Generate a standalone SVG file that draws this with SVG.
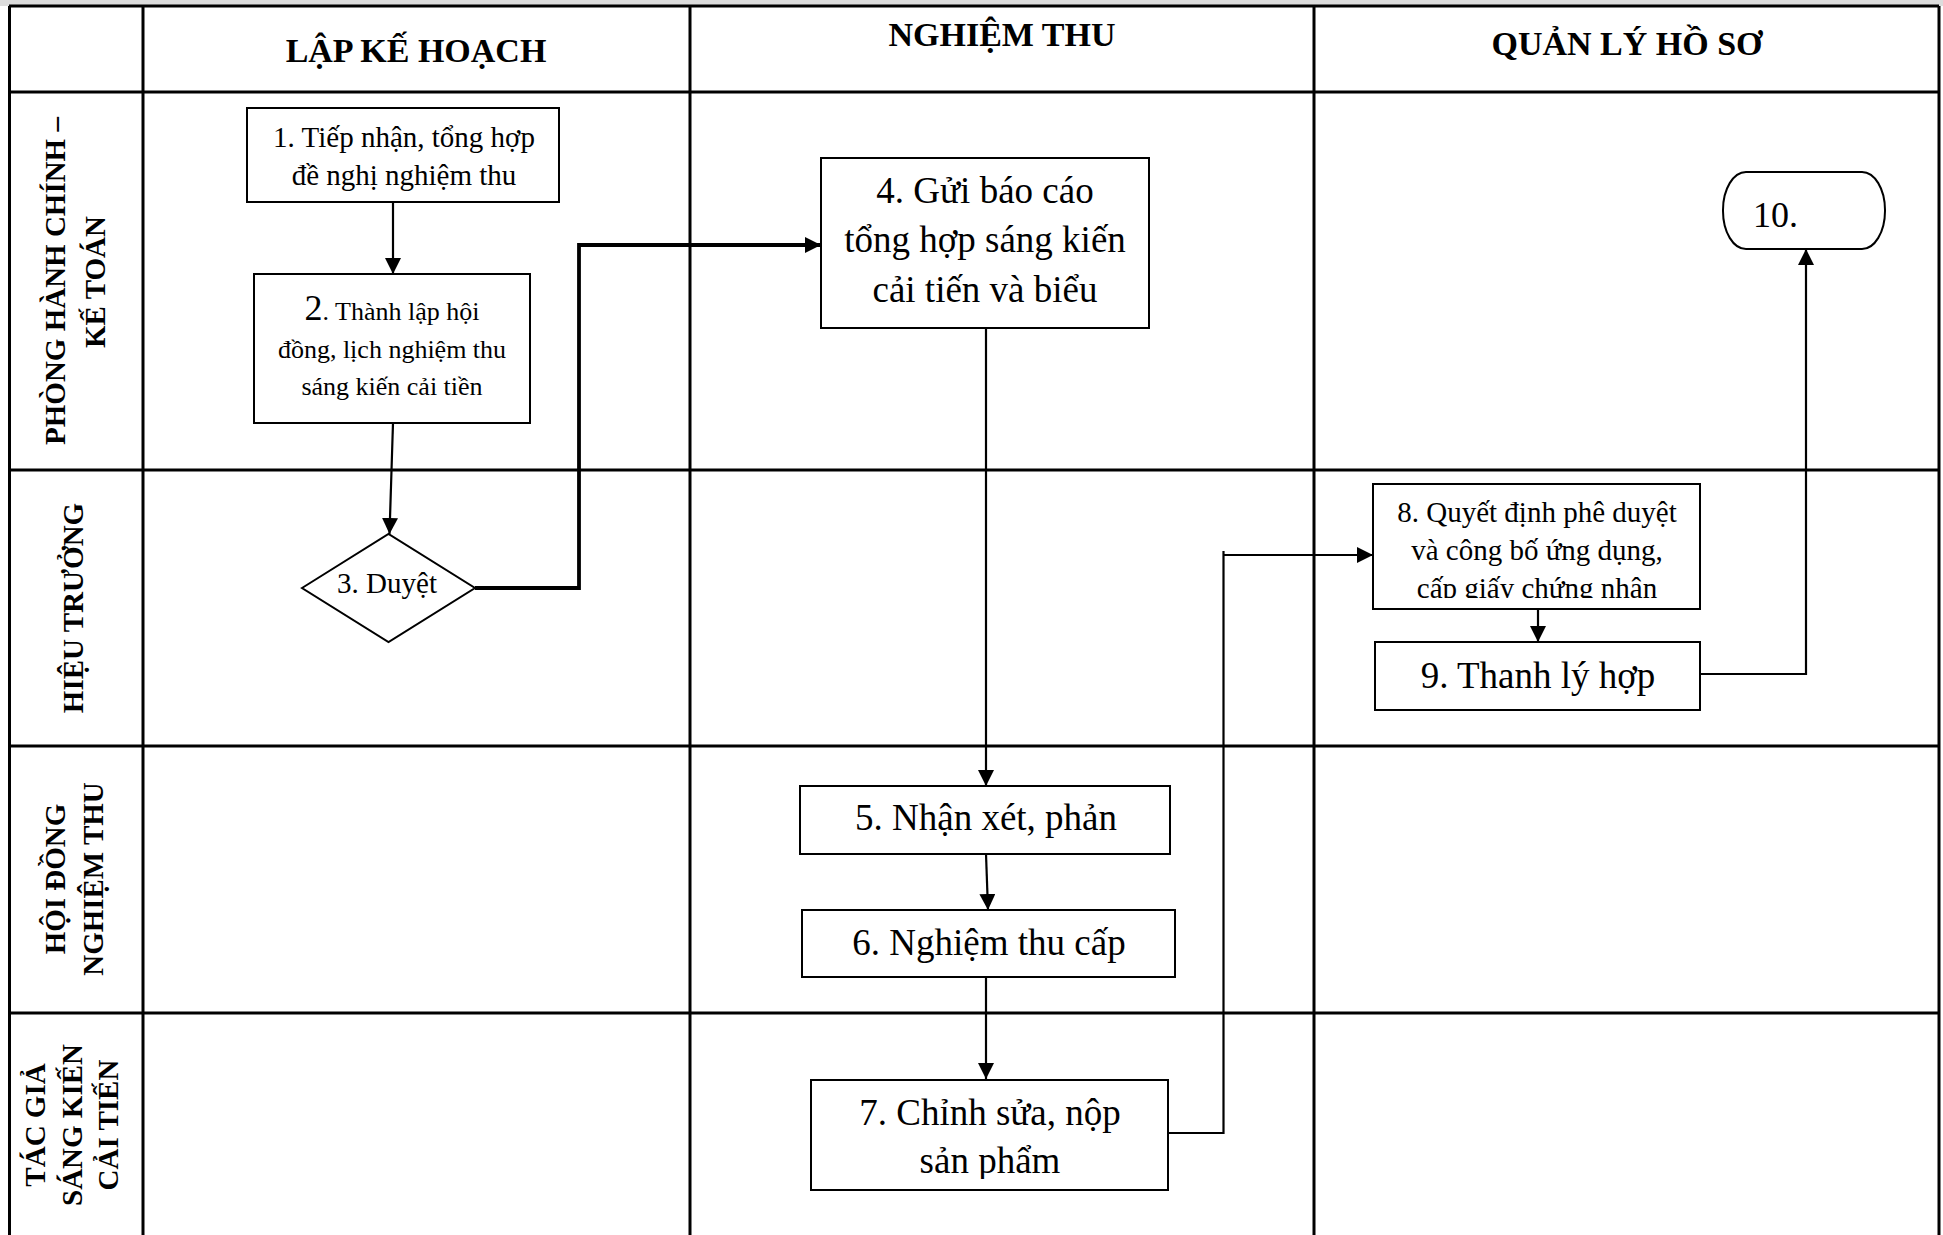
<svg xmlns="http://www.w3.org/2000/svg" width="1943" height="1235" viewBox="0 0 1943 1235">
<style>
.grid{stroke:#000;stroke-width:3;fill:none}
.box{fill:#fff;stroke:#000;stroke-width:2}
.hdr{font-family:"Liberation Serif","Times New Roman",serif;font-weight:bold;font-size:34px;text-anchor:middle;fill:#000}
.lane{font-family:"Liberation Serif","Times New Roman",serif;font-weight:bold;font-size:29px;text-anchor:middle;fill:#000}
.t{font-family:"Liberation Serif","Times New Roman",serif;text-anchor:middle;fill:#000}
.ts{font-family:"Liberation Serif","Times New Roman",serif;text-anchor:start;fill:#000;font-size:36px}
.s29{font-size:29px}
.s26{font-size:26px}
.s37{font-size:37px}
.conn{stroke:#000;stroke-width:2.2;fill:none}
.thick{stroke:#000;stroke-width:3.8;fill:none}
</style>
<defs>
<marker id="arr" markerUnits="userSpaceOnUse" markerWidth="16" markerHeight="16" refX="16" refY="8" orient="auto">
<path d="M0,0 L16,8 L0,16 z" fill="#000"/>
</marker>
<clipPath id="clip8"><rect x="1373" y="484" width="327" height="114"/></clipPath>
<clipPath id="clip7"><rect x="811" y="1080" width="357" height="99"/></clipPath>
</defs>
<rect x="0" y="0" width="1943" height="1235" fill="#fff"/>
<rect x="0" y="0" width="1943" height="6" fill="#dcdcdc"/>
<g id="grid">
<line class="grid" x1="9" y1="6" x2="1939" y2="6"/>
<line class="grid" x1="9" y1="92" x2="1939" y2="92"/>
<line class="grid" x1="9" y1="470" x2="1939" y2="470"/>
<line class="grid" x1="9" y1="746" x2="1939" y2="746"/>
<line class="grid" x1="9" y1="1013" x2="1939" y2="1013"/>
<line class="grid" x1="9.5" y1="6" x2="9.5" y2="1235"/>
<line class="grid" x1="143" y1="6" x2="143" y2="1235"/>
<line class="grid" x1="690" y1="6" x2="690" y2="1235"/>
<line class="grid" x1="1314" y1="6" x2="1314" y2="1235"/>
<line class="grid" x1="1939" y1="6" x2="1939" y2="1235"/>
</g>
<g id="headers">
<text class="hdr" x="416" y="62">LẬP KẾ HOẠCH</text>
<text class="hdr" x="1002" y="46">NGHIỆM THU</text>
<text class="hdr" x="1627" y="55">QUẢN LÝ HỒ SƠ</text>
</g>
<g id="lanes">
<text class="lane" transform="translate(64.5,281) rotate(-90)">PHÒNG HÀNH CHÍNH –</text>
<text class="lane" transform="translate(105,282) rotate(-90)">KẾ TOÁN</text>
<text class="lane" transform="translate(83,608) rotate(-90)">HIỆU TRƯỞNG</text>
<text class="lane" transform="translate(64.5,879) rotate(-90)">HỘI ĐỒNG</text>
<text class="lane" transform="translate(103,879) rotate(-90)">NGHIỆM THU</text>
<text class="lane" transform="translate(44.5,1125) rotate(-90)">TÁC GIẢ</text>
<text class="lane" transform="translate(82,1125) rotate(-90)">SÁNG KIẾN</text>
<text class="lane" transform="translate(118,1125) rotate(-90)">CẢI TIẾN</text>
</g>
<g id="connectors">
<line class="conn" x1="393" y1="202" x2="393" y2="274" marker-end="url(#arr)"/>
<line class="conn" x1="393" y1="423" x2="389.5" y2="534" marker-end="url(#arr)"/>
<path class="thick" d="M475,588 H579 V245 H821" marker-end="url(#arr)"/>
<line class="conn" x1="986" y1="328" x2="986" y2="786" marker-end="url(#arr)"/>
<line class="conn" x1="986" y1="854" x2="988" y2="910" marker-end="url(#arr)"/>
<line class="conn" x1="986" y1="977" x2="986" y2="1079" marker-end="url(#arr)"/>
<path class="conn" d="M1168,1133 H1223.5 V551"/>
<line class="conn" x1="1223.5" y1="555" x2="1373" y2="555" marker-end="url(#arr)"/>
<line class="conn" x1="1538" y1="609" x2="1538" y2="642" marker-end="url(#arr)"/>
<path class="conn" d="M1700,674 H1806 V249" marker-end="url(#arr)"/>
</g>
<g id="n1">
<rect class="box" x="247" y="108" width="312" height="94"/>
<text class="t s29" x="404" y="147">1. Tiếp nhận, tổng hợp</text>
<text class="t s29" x="404" y="185">đề nghị nghiệm thu</text>
</g>
<g id="n2">
<rect class="box" x="254" y="274" width="276" height="149"/>
<text class="t s26" x="392" y="320"><tspan font-size="36px">2</tspan>. Thành lập hội</text>
<text class="t s26" x="392" y="358">đồng, lịch nghiệm thu</text>
<text class="t s26" x="392" y="395">sáng kiến cải tiền</text>
</g>
<g id="n3">
<polygon class="box" points="302,588 388.5,534 475,588 388.5,642"/>
<text class="t s29" x="387" y="593">3. Duyệt</text>
</g>
<g id="n4">
<rect class="box" x="821" y="158" width="328" height="170"/>
<text class="t s37" x="985" y="203">4. Gửi báo cáo</text>
<text class="t s37" x="985" y="252">tổng hợp sáng kiến</text>
<text class="t s37" x="985" y="302">cải tiến và biểu</text>
</g>
<g id="n5">
<rect class="box" x="800" y="786" width="370" height="68"/>
<text class="t s37" x="986" y="830">5. Nhận xét, phản</text>
</g>
<g id="n6">
<rect class="box" x="802" y="910" width="373" height="67"/>
<text class="t s37" x="989" y="955">6. Nghiệm thu cấp</text>
</g>
<g id="n7">
<rect class="box" x="811" y="1080" width="357" height="110"/>
<g clip-path="url(#clip7)">
<text class="t s37" x="990" y="1125">7. Chỉnh sửa, nộp</text>
<text class="t s37" x="990" y="1173">sản phẩm</text>
</g>
</g>
<g id="n8">
<rect class="box" x="1373" y="484" width="327" height="125"/>
<g clip-path="url(#clip8)">
<text class="t s29" x="1537" y="522">8. Quyết định phê duyệt</text>
<text class="t s29" x="1537" y="560">và công bố ứng dụng,</text>
<text class="t s29" x="1537" y="598">cấp giấy chứng nhận</text>
</g>
</g>
<g id="n9">
<rect class="box" x="1375" y="642" width="325" height="68"/>
<text class="t s37" x="1538" y="688">9. Thanh lý hợp</text>
</g>
<g id="n10">
<rect class="box" x="1723" y="172" width="162" height="77" rx="23" ry="38"/>
<text class="ts" x="1753" y="227">10.</text>
</g>
</svg>
